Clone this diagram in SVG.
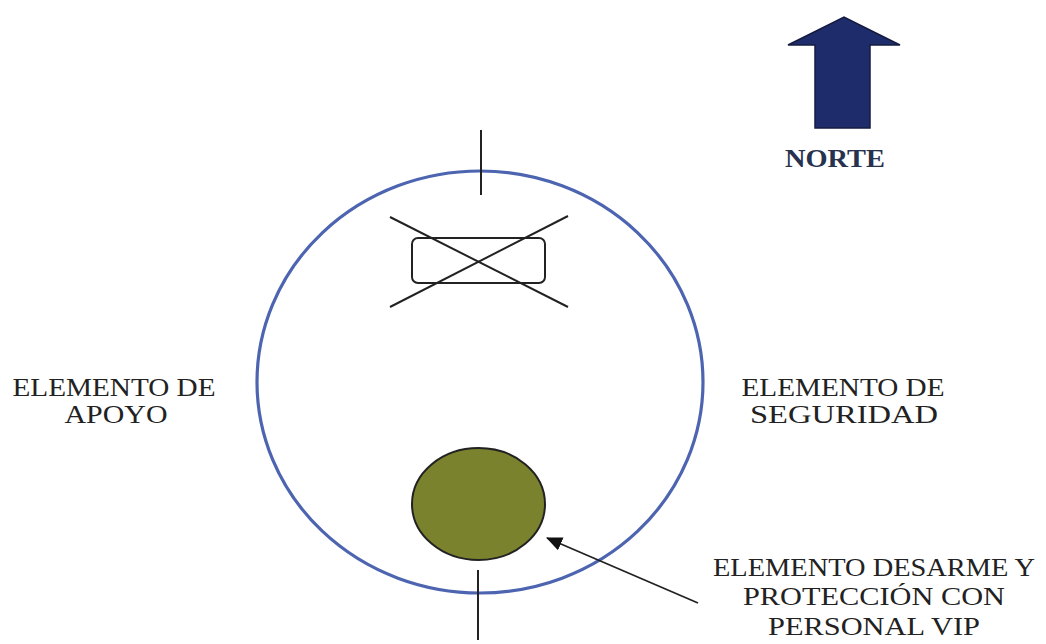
<svg xmlns="http://www.w3.org/2000/svg" width="1046" height="644" viewBox="0 0 1046 644">
<style>
.lbl{font-family:"Liberation Serif","Times New Roman",serif;font-size:26px;fill:#222;text-anchor:middle}
.ln{stroke:#222;stroke-width:2;fill:none}
</style>
<defs>
<marker id="ah" markerWidth="16" markerHeight="14" refX="15" refY="7" orient="auto" markerUnits="userSpaceOnUse" viewBox="0 0 16 14">
<path d="M0,0 L16,7 L0,14 z" fill="#111"/>
</marker>
</defs>
<rect width="1046" height="644" fill="#fff"/>
<g id="perimeter">
<ellipse cx="480" cy="382" rx="223" ry="211" fill="none" stroke="#4d65b0" stroke-width="3.2"/>
<line class="ln" x1="481" y1="130" x2="481" y2="195"/>
<line class="ln" x1="478" y1="570" x2="478" y2="640"/>
</g>
<g id="vehiculo">
<rect x="412" y="238" width="133" height="45" rx="6" class="ln"/>
<line class="ln" x1="390" y1="217" x2="568" y2="307"/>
<line class="ln" x1="390" y1="307" x2="568" y2="216"/>
</g>
<g id="vip">
<ellipse cx="478.5" cy="504" rx="66.5" ry="56" fill="#7b822e" stroke="#222" stroke-width="2"/>
</g>
<g id="norte">
<path d="M815,128 L815,45 L788,45 L844,17 L900,45 L870,45 L870,128 Z" fill="#1f2c6b" stroke="#141c40" stroke-width="1.5"/>
<text x="835" y="167" class="lbl" style="font-weight:bold;fill:#27324f" textLength="100" lengthAdjust="spacingAndGlyphs">NORTE</text>
</g>
<g id="apoyo">
<text x="114" y="396" class="lbl" textLength="203" lengthAdjust="spacingAndGlyphs">ELEMENTO DE</text>
<text x="116" y="423" class="lbl" textLength="103" lengthAdjust="spacingAndGlyphs">APOYO</text>
</g>
<g id="seguridad">
<text x="843" y="396" class="lbl" textLength="203" lengthAdjust="spacingAndGlyphs">ELEMENTO DE</text>
<text x="844" y="423" class="lbl" textLength="188" lengthAdjust="spacingAndGlyphs">SEGURIDAD</text>
</g>
<g id="desarme">
<text x="874" y="576" class="lbl" textLength="322" lengthAdjust="spacingAndGlyphs">ELEMENTO DESARME Y</text>
<text x="874" y="605" class="lbl" textLength="262" lengthAdjust="spacingAndGlyphs">PROTECCIÓN CON</text>
<text x="874" y="635" class="lbl" textLength="212" lengthAdjust="spacingAndGlyphs">PERSONAL VIP</text>
</g>
<g id="connectors">
<line x1="698" y1="603" x2="547" y2="538" stroke="#222" stroke-width="1.8" marker-end="url(#ah)"/>
</g>
</svg>
